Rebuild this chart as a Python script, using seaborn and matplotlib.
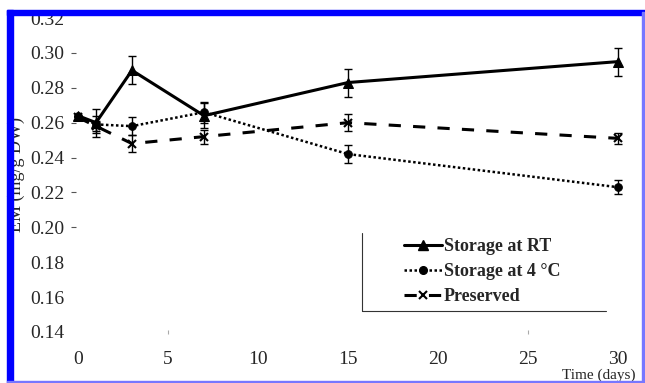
import numpy as np
import pandas as pd
import matplotlib
matplotlib.use('Agg')
from matplotlib import pyplot as plt
from matplotlib.patches import Rectangle
from matplotlib.lines import Line2D
import seaborn as sns

days = [0, 1, 3, 7, 15, 30]
em_rt = [0.264, 0.260, 0.290, 0.264, 0.283, 0.295]
err_rt = [0.000, 0.008, 0.008, 0.007, 0.008, 0.008]
em_4c = [0.264, 0.259, 0.258, 0.266, 0.242, 0.223]
err_4c = [0.000, 0.005, 0.005, 0.006, 0.005, 0.004]
em_pres = [0.263, 0.258, 0.248, 0.252, 0.260, 0.251]
err_pres = [0.000, 0.003, 0.005, 0.004, 0.005, 0.003]
labels = ['Storage at RT', 'Storage at 4 °C', 'Preserved']
yticks = [0.14, 0.16, 0.18, 0.20, 0.22, 0.24, 0.26, 0.28, 0.30, 0.32]
xticks = [0, 5, 10, 15, 20, 25, 30]

sns.set_style('white')
plt.rcParams['font.family'] = ['Liberation Serif', 'DejaVu Serif']

W, H = 645, 383
fig = plt.figure(figsize=(W / 100, H / 100), dpi=100)
# axes placed in pixels: x 76..636, y 18..332 (from top)
ax = fig.add_axes([76 / W, (H - 332) / H, (636 - 76) / W, (332 - 18) / H])

styles = [
    dict(linestyle='-', marker='^', markersize=7.5, linewidth=2.2),
    dict(linestyle=(0, (1, 1)), marker='o', markersize=5.5, linewidth=1.8),
    dict(linestyle=(0, (4, 4)), marker='x', markersize=6, linewidth=2.2, markeredgewidth=1.5),
]
series = [(em_rt, err_rt), (em_4c, err_4c), (em_pres, err_pres)]

handles = []
for (vals, errs), st, lab in zip(series, styles, labels):
    df = pd.DataFrame({'day': days, 'em': vals})
    sns.lineplot(data=df, x='day', y='em', color='black', ax=ax,
                 markeredgecolor='black', clip_on=False, **st)
    ax.errorbar(days, vals, yerr=errs, fmt='none', ecolor='black',
                elinewidth=1, capsize=3, capthick=1, clip_on=False)
    handles.append(Line2D([], [], color='black', **st))

ax.set_xlim(-0.11, 31)
ax.set_ylim(0.14, 0.32)
ax.set_yticks(yticks)
ax.set_yticklabels(['%.2f' % v for v in yticks], fontsize=14)
ax.set_xticks(xticks)
ax.set_xticklabels([str(v) for v in xticks], fontsize=14)
for s in ax.spines.values():
    s.set_visible(False)
ax.tick_params(axis='y', left=True, length=3.5, width=0.8, color='#555555', pad=5)
ax.tick_params(axis='x', bottom=True, length=3, width=0.8, color='#aaaaaa',
               direction='inout', pad=12)
for t, v in zip(ax.yaxis.get_major_ticks(), yticks):
    t.tick1line.set_visible(0.19 < v < 0.31)
for t, v in zip(ax.xaxis.get_major_ticks(), xticks):
    t.tick1line.set_visible(v in (5, 25))

ax.set_ylabel('EM (mg/g DW)', fontsize=13)
ax.yaxis.set_label_coords((25 - 76) / (636 - 76), 0.5)
ax.set_xlabel('Time (days)', fontsize=11, ha='left')
ax.xaxis.set_label_coords((562 - 76) / (636 - 76), -(369 - 332) / (332 - 18))

leg = ax.legend(handles, labels, loc='upper left', frameon=False,
                bbox_to_anchor=(404 / W, (H - 238) / H), bbox_transform=fig.transFigure,
                prop={'weight': 'bold', 'size': 13, 'family': 'Liberation Serif'},
                handlelength=2.1, handletextpad=0.1, labelspacing=0.45,
                borderpad=0, borderaxespad=0)

# legend box: only left and bottom edges
fig.add_artist(Line2D([362 / W, 362 / W], [(H - 233) / H, (H - 311) / H],
                      color='#333333', linewidth=0.8, transform=fig.transFigure))
fig.add_artist(Line2D([362 / W, 606 / W], [(H - 311) / H, (H - 311) / H],
                      color='#333333', linewidth=0.8, transform=fig.transFigure))

# blue scan border
fig.add_artist(Rectangle((7 / W, (H - 15) / H), (W - 7) / W, 5 / H, color='#0000ff',
                         transform=fig.transFigure, zorder=10))
fig.add_artist(Rectangle((7 / W, 0), 6 / W, (H - 10) / H, color='#0000ff',
                         transform=fig.transFigure, zorder=10))
fig.add_artist(Rectangle((642 / W, 0), 1.5 / W, (H - 12) / H, color='#7777ff',
                         transform=fig.transFigure, zorder=10))
fig.add_artist(Rectangle((7 / W, 1 / H), (W - 7) / W, 1.5 / H, color='#7777ff',
                         transform=fig.transFigure, zorder=10))

fig.savefig('out.png', dpi=100)
